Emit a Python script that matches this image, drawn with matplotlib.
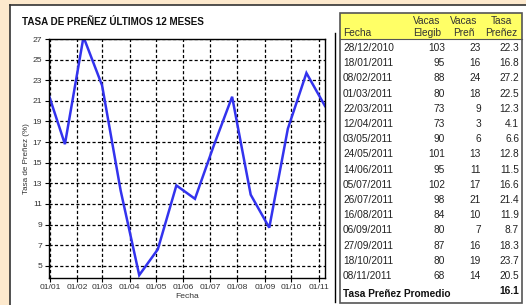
import datetime as dt
import matplotlib
matplotlib.use('Agg')
import matplotlib.pyplot as plt
import matplotlib.dates as mdates
from matplotlib.patches import Rectangle

plt.rcParams['font.family'] = ['Liberation Sans', 'DejaVu Sans']

fechas = ['28/12/2010', '18/01/2011', '08/02/2011', '01/03/2011', '22/03/2011',
          '12/04/2011', '03/05/2011', '24/05/2011', '14/06/2011', '05/07/2011',
          '26/07/2011', '16/08/2011', '06/09/2011', '27/09/2011', '18/10/2011',
          '08/11/2011']
vacas_elegib = [103, 95, 88, 80, 73, 73, 90, 101, 95, 102, 98, 84, 80, 87, 80, 68]
vacas_pren = [23, 16, 24, 18, 9, 3, 6, 13, 11, 17, 21, 10, 7, 16, 19, 14]
tasa = [22.3, 16.8, 27.2, 22.5, 12.3, 4.1, 6.6, 12.8, 11.5, 16.6, 21.4, 11.9,
        8.7, 18.3, 23.7, 20.5]
promedio = 16.1
y_ticks = list(range(5, 28, 2))
x_ticks = ['01/%02d' % m for m in range(1, 12)]

dates = [dt.datetime.strptime(f, '%d/%m/%Y') for f in fechas]
tick_dates = [dt.datetime(2011, m, 1) for m in range(1, 12)]

W, H = 526, 305
fig = plt.figure(figsize=(W / 100, H / 100), dpi=100)
fig.patch.set_facecolor('#FDE9CD')

# background layer in pixel coords
bg = fig.add_axes([0, 0, 1, 1], zorder=0)
bg.set_xlim(0, W)
bg.set_ylim(H, 0)
bg.axis('off')
bg.add_patch(Rectangle((10, 5), W, H, facecolor='white', edgecolor='none'))
bg.plot([10, 10], [5, H], color='#333333', lw=1.2)
bg.plot([10, W], [5, 5], color='#333333', lw=1.2)
bg.plot([335, 335], [33, 302], color='black', lw=1)

bg.text(22, 22, 'TASA DE PREÑEZ ÚLTIMOS 12 MESES', fontsize=7.1,
        fontweight='bold', color='#111111', va='center', ha='left')

# table
tx0, tx1, ty0, ty1 = 340, 522, 13, 303
bg.add_patch(Rectangle((tx0, ty0), tx1 - tx0, 26, facecolor='#FFFF66',
                       edgecolor='none'))
bg.add_patch(Rectangle((tx0, ty0), tx1 - tx0, ty1 - ty0, facecolor='none',
                       edgecolor='#555555', lw=1.2))
bg.plot([tx0, tx1], [39, 39], color='#555555', lw=0.8)

hc = '#333333'
fs = 7.3
bg.text(343, 33, 'Fecha', fontsize=fs, color=hc, ha='left', va='center')
for cx, l1, l2 in [(427, 'Vacas', 'Elegib'), (464, 'Vacas', 'Preñ'),
                   (501, 'Tasa', 'Preñez')]:
    bg.text(cx, 21.5, l1, fontsize=fs, color=hc, ha='center', va='center')
    bg.text(cx, 32.5, l2, fontsize=fs, color=hc, ha='center', va='center')

for i in range(len(fechas)):
    y = 48 + i * 15.2
    bg.text(343, y, fechas[i], fontsize=fs, color='#222222', va='center')
    bg.text(445, y, str(vacas_elegib[i]), fontsize=fs, color='#222222',
            ha='right', va='center')
    bg.text(481, y, str(vacas_pren[i]), fontsize=fs, color='#222222',
            ha='right', va='center')
    bg.text(519, y, '%.1f' % tasa[i], fontsize=fs, color='#222222',
            ha='right', va='center')

bg.text(343, 294, 'Tasa Preñez Promedio', fontsize=fs, fontweight='bold',
        color='#111111', va='center')
bg.text(519, 290.5, '%.1f' % promedio, fontsize=fs, fontweight='bold',
        color='#111111', ha='right', va='center')

# chart
ax = fig.add_axes([49 / W, 1 - 277.5 / H, 276 / W, 238.5 / H], zorder=1)
ax.set_facecolor('white')
ax.plot(dates, tasa, color='#3333EE', lw=1.8, solid_joinstyle='miter')
ax.set_xlim(dt.datetime(2010, 12, 31), dt.datetime(2011, 11, 8))
ax.set_ylim(3.87, 27)
ax.set_yticks(y_ticks)
ax.set_yticklabels([str(v) for v in y_ticks])
ax.set_xticks(tick_dates)
ax.set_xticklabels(x_ticks)
ax.grid(True, color='black', linestyle=(0, (2.5, 1.8)), lw=0.9)
ax.tick_params(labelsize=6.1, labelcolor='#333333', length=3, width=0.8,
               pad=2)
for s in ax.spines.values():
    s.set_color('black')
    s.set_linewidth(1)
ax.set_xlabel('Fecha', fontsize=6.1, color='#333333', labelpad=1)
ax.set_ylabel('Tasa de Preñez (%)', fontsize=5.8, color='#333333', labelpad=2)

fig.savefig('out.png', dpi=100, facecolor=fig.get_facecolor())
